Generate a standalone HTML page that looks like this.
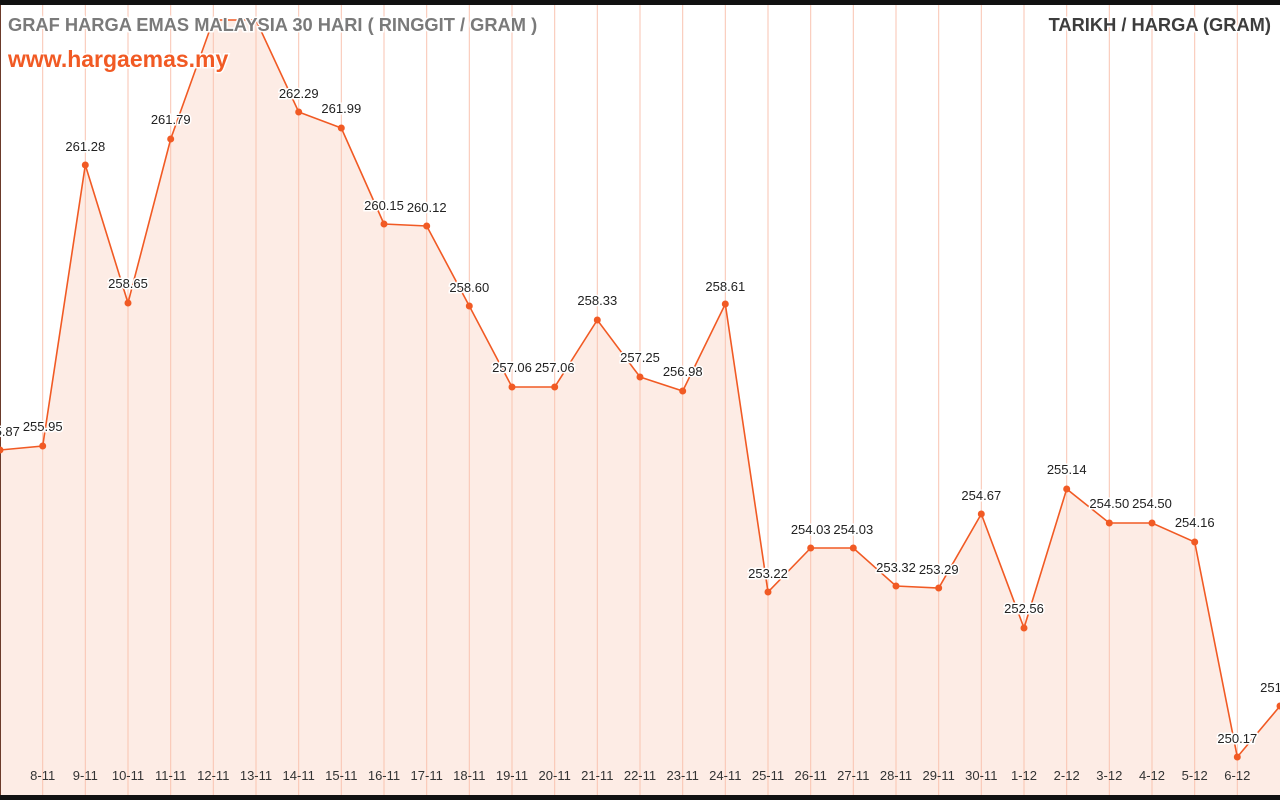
<!DOCTYPE html>
<html><head><meta charset="utf-8"><style>
html,body{margin:0;padding:0;background:#fff;}
svg{display:block;font-family:"Liberation Sans",sans-serif;}
.v{font-size:13px;fill:#222;text-anchor:middle;stroke:#fff;stroke-width:3px;paint-order:stroke;}
.d{font-size:13px;fill:#333;text-anchor:middle;}
.vl{stroke:#f9c3b0;stroke-width:1;}
</style></head><body>
<svg width="1280" height="800" viewBox="0 0 1280 800">
<rect x="0" y="0" width="1280" height="800" fill="#fff"/>
<polygon fill="#fdece5" points="0,795 0,450 42.7,446 85.3,165 128,303 170.7,139 213.3,20 256,20 298.7,112 341.3,128 384,224 426.7,226 469.3,306 512,387 554.7,387 597.3,320 640,377 682.7,391 725.3,304 768,592 810.7,548 853.3,548 896,586 938.7,588 981.3,514 1024,628 1066.7,489 1109.3,523 1152,523 1194.7,542 1237.3,757 1280,706 1280,795"/>
<g class="vl">
<line x1="42.7" y1="5" x2="42.7" y2="795"/><line x1="85.3" y1="5" x2="85.3" y2="795"/><line x1="128" y1="5" x2="128" y2="795"/><line x1="170.7" y1="5" x2="170.7" y2="795"/><line x1="213.3" y1="5" x2="213.3" y2="795"/><line x1="256" y1="5" x2="256" y2="795"/><line x1="298.7" y1="5" x2="298.7" y2="795"/><line x1="341.3" y1="5" x2="341.3" y2="795"/><line x1="384" y1="5" x2="384" y2="795"/><line x1="426.7" y1="5" x2="426.7" y2="795"/><line x1="469.3" y1="5" x2="469.3" y2="795"/><line x1="512" y1="5" x2="512" y2="795"/><line x1="554.7" y1="5" x2="554.7" y2="795"/><line x1="597.3" y1="5" x2="597.3" y2="795"/><line x1="640" y1="5" x2="640" y2="795"/><line x1="682.7" y1="5" x2="682.7" y2="795"/><line x1="725.3" y1="5" x2="725.3" y2="795"/><line x1="768" y1="5" x2="768" y2="795"/><line x1="810.7" y1="5" x2="810.7" y2="795"/><line x1="853.3" y1="5" x2="853.3" y2="795"/><line x1="896" y1="5" x2="896" y2="795"/><line x1="938.7" y1="5" x2="938.7" y2="795"/><line x1="981.3" y1="5" x2="981.3" y2="795"/><line x1="1024" y1="5" x2="1024" y2="795"/><line x1="1066.7" y1="5" x2="1066.7" y2="795"/><line x1="1109.3" y1="5" x2="1109.3" y2="795"/><line x1="1152" y1="5" x2="1152" y2="795"/><line x1="1194.7" y1="5" x2="1194.7" y2="795"/><line x1="1237.3" y1="5" x2="1237.3" y2="795"/>
</g>
<line x1="0.5" y1="0" x2="0.5" y2="800" stroke="#6b3a2a" stroke-width="1"/>
<polyline fill="none" stroke="#f15a24" stroke-width="1.6" points="0,450 42.7,446 85.3,165 128,303 170.7,139 213.3,20 256,20 298.7,112 341.3,128 384,224 426.7,226 469.3,306 512,387 554.7,387 597.3,320 640,377 682.7,391 725.3,304 768,592 810.7,548 853.3,548 896,586 938.7,588 981.3,514 1024,628 1066.7,489 1109.3,523 1152,523 1194.7,542 1237.3,757 1280,706"/>
<g fill="#f15a24">
<circle cx="0" cy="450" r="3.5"/><circle cx="42.7" cy="446" r="3.5"/><circle cx="85.3" cy="165" r="3.5"/><circle cx="128" cy="303" r="3.5"/><circle cx="170.7" cy="139" r="3.5"/><circle cx="298.7" cy="112" r="3.5"/><circle cx="341.3" cy="128" r="3.5"/><circle cx="384" cy="224" r="3.5"/><circle cx="426.7" cy="226" r="3.5"/><circle cx="469.3" cy="306" r="3.5"/><circle cx="512" cy="387" r="3.5"/><circle cx="554.7" cy="387" r="3.5"/><circle cx="597.3" cy="320" r="3.5"/><circle cx="640" cy="377" r="3.5"/><circle cx="682.7" cy="391" r="3.5"/><circle cx="725.3" cy="304" r="3.5"/><circle cx="768" cy="592" r="3.5"/><circle cx="810.7" cy="548" r="3.5"/><circle cx="853.3" cy="548" r="3.5"/><circle cx="896" cy="586" r="3.5"/><circle cx="938.7" cy="588" r="3.5"/><circle cx="981.3" cy="514" r="3.5"/><circle cx="1024" cy="628" r="3.5"/><circle cx="1066.7" cy="489" r="3.5"/><circle cx="1109.3" cy="523" r="3.5"/><circle cx="1152" cy="523" r="3.5"/><circle cx="1194.7" cy="542" r="3.5"/><circle cx="1237.3" cy="757" r="3.5"/><circle cx="1280" cy="706" r="3.5"/>
</g>
<g class="v">
<text x="0" y="436">255.87</text><text x="42.7" y="431">255.95</text><text x="85.3" y="151">261.28</text><text x="128" y="288">258.65</text><text x="170.7" y="124">261.79</text><text x="298.7" y="98">262.29</text><text x="341.3" y="113">261.99</text><text x="384" y="210">260.15</text><text x="426.7" y="212">260.12</text><text x="469.3" y="292">258.60</text><text x="512" y="372">257.06</text><text x="554.7" y="372">257.06</text><text x="597.3" y="305">258.33</text><text x="640" y="362">257.25</text><text x="682.7" y="376">256.98</text><text x="725.3" y="291">258.61</text><text x="768" y="578">253.22</text><text x="810.7" y="534">254.03</text><text x="853.3" y="534">254.03</text><text x="896" y="572">253.32</text><text x="938.7" y="574">253.29</text><text x="981.3" y="500">254.67</text><text x="1024" y="613">252.56</text><text x="1066.7" y="474">255.14</text><text x="1109.3" y="508">254.50</text><text x="1152" y="508">254.50</text><text x="1194.7" y="527">254.16</text><text x="1237.3" y="743">250.17</text><text x="1280" y="692">251.13</text>
</g>
<g class="d">
<text x="42.7" y="780">8-11</text><text x="85.3" y="780">9-11</text><text x="128" y="780">10-11</text><text x="170.7" y="780">11-11</text><text x="213.3" y="780">12-11</text><text x="256" y="780">13-11</text><text x="298.7" y="780">14-11</text><text x="341.3" y="780">15-11</text><text x="384" y="780">16-11</text><text x="426.7" y="780">17-11</text><text x="469.3" y="780">18-11</text><text x="512" y="780">19-11</text><text x="554.7" y="780">20-11</text><text x="597.3" y="780">21-11</text><text x="640" y="780">22-11</text><text x="682.7" y="780">23-11</text><text x="725.3" y="780">24-11</text><text x="768" y="780">25-11</text><text x="810.7" y="780">26-11</text><text x="853.3" y="780">27-11</text><text x="896" y="780">28-11</text><text x="938.7" y="780">29-11</text><text x="981.3" y="780">30-11</text><text x="1024" y="780">1-12</text><text x="1066.7" y="780">2-12</text><text x="1109.3" y="780">3-12</text><text x="1152" y="780">4-12</text><text x="1194.7" y="780">5-12</text><text x="1237.3" y="780">6-12</text>
</g>
<rect x="0" y="0" width="1280" height="5" fill="#111"/>
<rect x="0" y="795" width="1280" height="5" fill="#111"/>
<text x="8" y="31" font-size="18.3" font-weight="bold" fill="#7a7a7a" stroke="#fff" stroke-width="3" paint-order="stroke">GRAF HARGA EMAS MALAYSIA 30 HARI ( RINGGIT / GRAM )</text>
<text x="8" y="67" font-size="23" font-weight="bold" fill="#f15a24" stroke="#fff" stroke-width="3" paint-order="stroke">www.hargaemas.my</text>
<text x="1271" y="31" font-size="18.3" font-weight="bold" fill="#3d3d3d" text-anchor="end" stroke="#fff" stroke-width="3" paint-order="stroke">TARIKH / HARGA (GRAM)</text>
</svg>
</body></html>
